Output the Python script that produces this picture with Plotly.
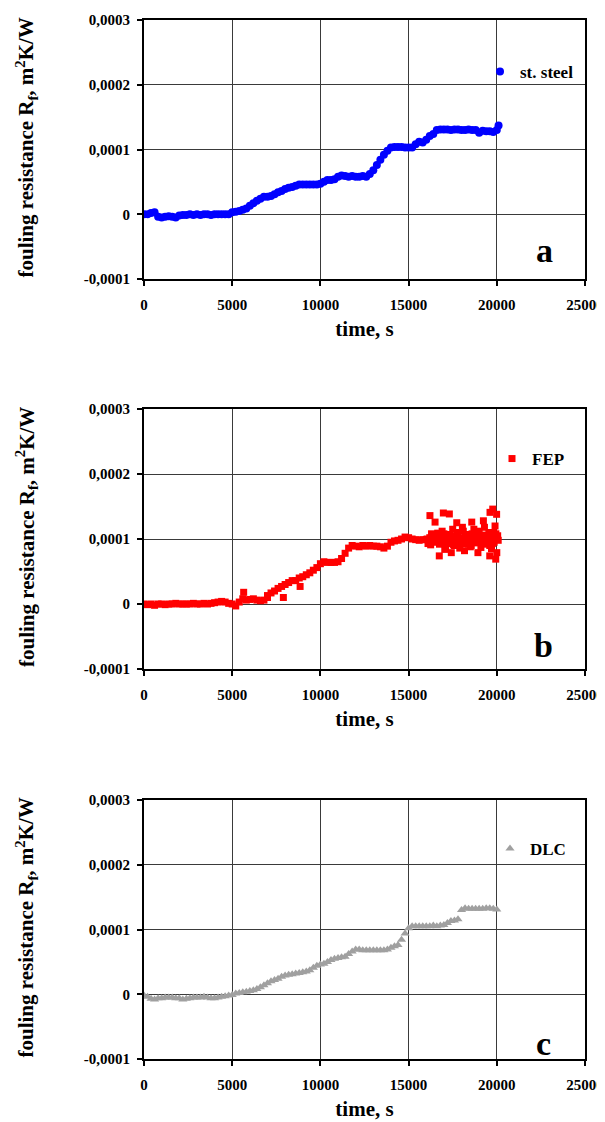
import plotly.graph_objects as go
import numpy as np

# ---------------- data (values in units of 1e-4 m2K/W) ----------------
time_s = list(range(0, 20001, 200))

steel_rf_e4 = [
    0.00, 0.00, 0.02, 0.03, -0.04, -0.05, -0.04, -0.03, -0.04, -0.05,
    -0.02, -0.01, -0.01, 0.00, -0.01, 0.00, -0.01, 0.00, 0.00, -0.01,
    0.00, 0.00, 0.00, 0.00, 0.00, 0.03, 0.04, 0.05, 0.07, 0.09,
    0.13, 0.17, 0.21, 0.24, 0.27, 0.27, 0.28, 0.31, 0.34, 0.36,
    0.39, 0.41, 0.42, 0.44, 0.46, 0.46, 0.46, 0.46, 0.46, 0.46,
    0.47, 0.50, 0.53, 0.53, 0.54, 0.58, 0.60, 0.59, 0.58, 0.59,
    0.58, 0.58, 0.59, 0.58, 0.62, 0.68, 0.76, 0.84, 0.92, 0.98,
    1.03, 1.04, 1.04, 1.04, 1.03, 1.03, 1.03, 1.08, 1.12, 1.11,
    1.15, 1.21, 1.24, 1.30, 1.31, 1.31, 1.31, 1.30, 1.31, 1.31,
    1.30, 1.30, 1.31, 1.30, 1.30, 1.26, 1.29, 1.28, 1.28, 1.27,
    1.30,
]
steel_extra_x = [20100]
steel_extra_e4 = [1.37]

fep_rf_e4 = [
    0.00, -0.01, 0.00, -0.02, 0.00, 0.00, -0.01, 0.00, 0.00, 0.01,
    0.00, 0.00, 0.00, 0.00, 0.01, 0.00, 0.00, 0.01, 0.00, 0.01,
    0.02, 0.03, 0.04, 0.03, 0.01, 0.00, -0.03, 0.03, 0.08, 0.06,
    0.07, 0.08, 0.06, 0.05, 0.06, 0.10, 0.17, 0.20, 0.24, 0.27,
    0.30, 0.33, 0.36, 0.36, 0.40, 0.42, 0.45, 0.48, 0.52, 0.56,
    0.62, 0.65, 0.64, 0.64, 0.64, 0.65, 0.70, 0.78, 0.86, 0.90,
    0.89, 0.88, 0.90, 0.89, 0.90, 0.89, 0.89, 0.88, 0.86, 0.89,
    0.95, 0.97, 0.98, 1.00, 1.03, 1.02, 1.00, 0.99, 0.98, 0.99,
    0.99, 1.02, 0.96, 1.05, 0.93, 1.08, 0.95, 1.04, 0.90, 1.10,
    0.97, 1.06, 0.92, 1.08, 0.96, 1.12, 0.94, 1.05, 0.90, 1.10,
    1.02,
]
fep_extra_x = [
    5650, 7000, 7900, 8850, 16210, 16500, 16740, 16970, 17310, 17420,
    17730, 18170, 18580, 18930, 19240, 19600, 19615, 19770, 19940, 19990,
    20000, 16100, 16300, 16700, 16900, 17100, 17300, 17500, 17700, 17900,
    18100, 18300, 18500, 18700, 18900, 19100, 19300, 19500, 19700, 19900,
    20050, 19850, 18050, 17050,
    16050, 16150, 16250, 16350, 16450, 16550, 16650, 16750, 16850, 16950,
    17150, 17250, 17350, 17450, 17550, 17650, 17750, 17850, 17950, 18150,
    18250, 18350, 18450, 18550, 18650, 18750, 18850, 18950, 19050, 19150,
    19250, 19350, 19450, 19550, 19650, 19750, 19950, 20080,
]
fep_extra_e4 = [
    0.18, 0.13, 0.10, 0.27, 1.36, 1.26, 0.74, 1.40, 1.385, 0.79,
    1.25, 0.82, 1.26, 0.79, 1.28, 0.74, 1.41, 1.46, 0.69, 1.38,
    0.79, 0.93, 1.08, 0.98, 1.12, 0.88, 1.00, 1.15, 0.99, 0.86,
    1.12, 1.00, 0.88, 1.15, 1.02, 0.87, 1.18, 0.99, 0.85, 1.20,
    1.05, 0.95, 1.18, 0.84,
    1.00, 0.97, 0.91, 1.03, 1.00, 0.95, 1.09, 0.92, 1.01, 0.96,
    1.04, 0.93, 1.07, 0.98, 0.91, 1.02, 1.06, 0.95, 1.01, 0.93,
    1.07, 0.97, 1.03, 0.90, 1.00, 1.05, 0.94, 1.09, 0.97, 1.03,
    0.92, 1.06, 0.96, 1.10, 1.01, 0.93, 1.08, 0.98,
]

dlc_rf_e4 = [
    -0.02, -0.04, -0.07, -0.08, -0.06, -0.06, -0.05, -0.05, -0.05, -0.06,
    -0.06, -0.08, -0.07, -0.06, -0.05, -0.05, -0.05, -0.04, -0.05, -0.06,
    -0.06, -0.05, -0.04, -0.03, -0.02, -0.01, 0.01, 0.02, 0.03, 0.04,
    0.05, 0.06, 0.08, 0.11, 0.14, 0.17, 0.20, 0.22, 0.24, 0.27,
    0.29, 0.30, 0.31, 0.32, 0.33, 0.34, 0.35, 0.37, 0.41, 0.44,
    0.46, 0.47, 0.50, 0.53, 0.55, 0.56, 0.57, 0.58, 0.62, 0.66,
    0.69, 0.69, 0.68, 0.68, 0.68, 0.68, 0.68, 0.68, 0.68, 0.69,
    0.72, 0.74, 0.76, 0.84, 0.94, 1.02, 1.05, 1.05, 1.05, 1.05,
    1.05, 1.05, 1.06, 1.05, 1.06, 1.07, 1.10, 1.13, 1.14, 1.16,
    1.30, 1.33, 1.32, 1.32, 1.32, 1.32, 1.32, 1.33, 1.33, 1.32,
    1.31,
]

series_names = ["st. steel", "FEP", "DLC"]
panel_letters = ["a", "b", "c"]
y_title = "fouling resistance R<sub>f</sub>, m<sup>2</sup>K/W"
x_title = "time, s"

x_tick_vals = [0, 5000, 10000, 15000, 20000, 25000]
x_tick_text = ["0", "5000", "10000", "15000", "20000", "25000"]
y_tick_vals = [-0.0001, 0.0, 0.0001, 0.0002, 0.0003]
y_tick_text = ["-0,0001", "0", "0,0001", "0,0002", "0,0003"]

# ---------------- figure ----------------
# page body has an 8px margin, so the figure is 8px smaller and all
# target pixel positions are shifted by 8px
OFF = 8
W, H = 605 - OFF, 1122 - OFF
FONT = "Liberation Serif"

def px_x(p):
    return (p - OFF) / W

def px_y(p):
    return 1 - (p - OFF) / H

panels = [(20, 279), (409, 669), (800, 1059)]
x_left, x_right = 144, 585

sx = [np.array(time_s + steel_extra_x), np.array(steel_rf_e4 + steel_extra_e4) * 1e-4]
fx = [np.array(time_s + fep_extra_x), np.array(fep_rf_e4 + fep_extra_e4) * 1e-4]
dx = [np.array(time_s), np.array(dlc_rf_e4) * 1e-4]

styles = [
    dict(symbol="circle", color="#0000FF", size=8),
    dict(symbol="square", color="#FF0000", size=7),
    dict(symbol="triangle-up", color="#A0A0A0", size=8),
]
datas = [sx, fx, dx]

fig = go.Figure()
legend_keys = ["legend", "legend2", "legend3"]
for i in range(3):
    xs, ys = datas[i]
    fig.add_trace(go.Scatter(
        x=xs, y=ys, mode="markers", name=series_names[i],
        marker=dict(symbol=styles[i]["symbol"], color=styles[i]["color"],
                    size=styles[i]["size"], line=dict(width=0)),
        xaxis="x" if i == 0 else f"x{i+1}",
        yaxis="y" if i == 0 else f"y{i+1}",
        legend=legend_keys[i],
        showlegend=True,
    ))

layout = dict(
    width=W, height=H,
    margin=dict(l=0, r=0, t=0, b=0),
    paper_bgcolor="white", plot_bgcolor="white",
    font=dict(family=FONT, size=15, color="black", weight="bold"),
    annotations=[],
)

legend_pos = [(520, 72), (532, 459), (530, 849)]
letter_pos = [(544, 250), (543, 645), (543, 1043)]

for i, (top, bot) in enumerate(panels):
    xk = "xaxis" if i == 0 else f"xaxis{i+1}"
    yk = "yaxis" if i == 0 else f"yaxis{i+1}"
    xref = "x" if i == 0 else f"x{i+1}"
    yref = "y" if i == 0 else f"y{i+1}"
    layout[xk] = dict(
        domain=[px_x(x_left), px_x(x_right)], anchor=yref,
        range=[0, 25000], tickvals=x_tick_vals, ticktext=x_tick_text,
        showgrid=True, gridcolor="#3a3a3a", gridwidth=1,
        showline=True, linecolor="black", linewidth=2, mirror=True,
        ticks="outside", ticklen=5, tickwidth=1.5, tickcolor="black",
        zeroline=False, automargin=False, ticklabelstandoff=6,
        tickfont=dict(size=15, family=FONT, weight="bold", color="black"),
        title=dict(text=x_title, font=dict(size=21, family=FONT, weight="bold", color="black"), standoff=9),
    )
    layout[yk] = dict(
        domain=[px_y(bot), px_y(top)], anchor=xref,
        range=[-0.0001, 0.0003], tickvals=y_tick_vals, ticktext=y_tick_text,
        showgrid=True, gridcolor="#3a3a3a", gridwidth=1,
        showline=True, linecolor="black", linewidth=2, mirror=True,
        ticks="outside", ticklen=5, tickwidth=1.5, tickcolor="black",
        zeroline=False, automargin=False, ticklabelstandoff=4,
        tickfont=dict(size=15, family=FONT, weight="bold", color="black"),
    )
    # y-axis title as a rotated paper annotation for exact placement
    layout["annotations"].append(dict(
        text=y_title, x=px_x(26), y=px_y((top + bot) / 2 - 2), xref="paper", yref="paper",
        xanchor="center", yanchor="middle", showarrow=False, textangle=-90,
        font=dict(size=21, family=FONT, weight="bold", color="black"),
    ))
    lx, ly = legend_pos[i]
    layout[legend_keys[i]] = dict(
        x=px_x(lx - 40), y=px_y(ly), xanchor="left", yanchor="middle",
        bgcolor="rgba(0,0,0,0)", borderwidth=0,
        font=dict(size=17, family=FONT, weight="bold", color="black"),
    )
    ax, ay = letter_pos[i]
    layout["annotations"].append(dict(
        text=panel_letters[i], x=px_x(ax), y=px_y(ay), xref="paper", yref="paper",
        xanchor="center", yanchor="middle", showarrow=False,
        font=dict(size=34, family=FONT, weight="bold", color="black"),
    ))

fig.update_layout(**layout)
fig.write_html("out.html")
